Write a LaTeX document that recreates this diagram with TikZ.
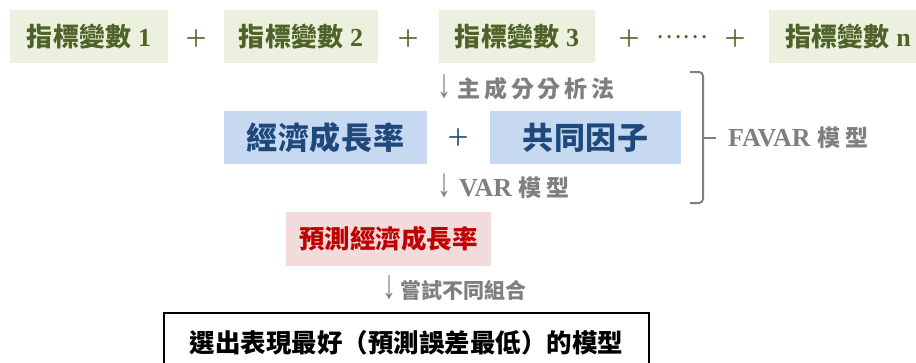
\documentclass[tikz,border=0pt]{standalone}
\usepackage{fontspec}
\setmainfont{Liberation Serif}
\newfontfamily\cjk{Noto Sans CJK TC}
\definecolor{grnfill}{HTML}{EBF1DE}
\definecolor{grntext}{HTML}{4F6228}
\definecolor{bluefill}{HTML}{C6D9F1}
\definecolor{bluetext}{HTML}{1F497D}
\definecolor{redfill}{HTML}{F2DCDB}
\definecolor{redtext}{HTML}{C00000}
\definecolor{graytext}{HTML}{7F7F7F}
\newcommand{\lsp}[1]{\addfontfeature{LetterSpace=#1}}
\newcommand{\darr}{{\fontsize{28}{30}\selectfont\mdseries\scalebox{1}[1.45]{↓}}}
\begin{document}
\begin{tikzpicture}[x=1pt,y=-1pt,
  topbox/.style={fill=grnfill, text=grntext, minimum height=53pt, inner sep=0pt,
    font=\fontsize{26}{30}\selectfont\bfseries},
  bluebox/.style={fill=bluefill, text=bluetext, minimum height=53pt, inner sep=0pt,
    font=\fontsize{31}{34}\selectfont\bfseries},
  redbox/.style={fill=redfill, text=redtext, minimum height=54pt, inner sep=0pt,
    font=\fontsize{25.5}{30}\selectfont\bfseries},
  finalbox/.style={draw=black, line width=2.2pt, minimum height=60pt, inner sep=0pt,
    font=\fontsize{25.5}{30}\selectfont\bfseries},
  plussign/.style={inner sep=0pt, font=\cjk\fontsize{24}{28}\selectfont},
  graylabel/.style={text=graytext, inner sep=0pt, anchor=west,
    font=\fontsize{26}{30}\selectfont\bfseries}
]
\useasboundingbox (0,0) rectangle (916,362);
\clip (0,0) rectangle (916,362);

% top row
\node[topbox, minimum width=158pt] (v1) at (89,36.5) {{\cjk\lsp{1}指標變數} 1};
\node[plussign, text=grntext] (pl1) at (196,39) {＋};
\node[topbox, minimum width=154pt] (v2) at (301,36.5) {{\cjk\lsp{1}指標變數} 2};
\node[plussign, text=grntext] (pl2) at (408,39) {＋};
\node[topbox, minimum width=156pt] (v3) at (517,36.5) {{\cjk\lsp{1}指標變數} 3};
\node[plussign, text=grntext] (pl3) at (629,39) {＋};
\node[inner sep=0pt, text=grntext, font=\cjk\fontsize{24}{28}\selectfont] (dots) at (682,37) {……};
\node[plussign, text=grntext] (pl4) at (735,39) {＋};
\node[topbox, minimum width=158pt] (vn) at (848,36.5) {{\cjk\lsp{1}指標變數} n};

% PCA label
\node[graylabel] (pca) at (437,87) {\darr\hspace{6pt}{\cjk\fontsize{23}{26}\selectfont\bfseries\lsp{17}主成分分析法}};

% middle row
\node[bluebox, minimum width=203pt] (gdp) at (325.5,137.5) {\cjk\bfseries\lsp{3}經濟成長率};
\node[plussign, text=bluetext] (pl5) at (458,138) {＋};
\node[bluebox, minimum width=191pt] (fac) at (585.5,137.5) {\cjk\bfseries\lsp{3}共同因子};

% VAR label
\node[graylabel] (var) at (437,186) {\darr\hspace{8pt}VAR {\cjk\fontsize{23}{26}\selectfont\bfseries\lsp{20}模型}};

% brace
\draw[graytext, line width=2pt, rounded corners=4pt] (690,72) -| (703,138) |- (690,203);
\draw[graytext, line width=2pt] (703,138) -- (716,138);
\node[graylabel] (favar) at (728,138) {FAVAR {\cjk\fontsize{23}{26}\selectfont\bfseries\lsp{25}模型}};

% forecast
\node[redbox, minimum width=205pt] (fc) at (388.5,239) {\cjk\bfseries\lsp{0}預測經濟成長率};

% try label
\node[graylabel] (try) at (382,288) {\darr\hspace{4pt}{\cjk\fontsize{21}{24}\selectfont\bfseries\lsp{0}嘗試不同組合}};

% final box
\node[finalbox, minimum width=485pt] (best) at (406.5,343) {\cjk\bfseries\lsp{0}選出表現最好（預測誤差最低）的模型};
\end{tikzpicture}
\end{document}
